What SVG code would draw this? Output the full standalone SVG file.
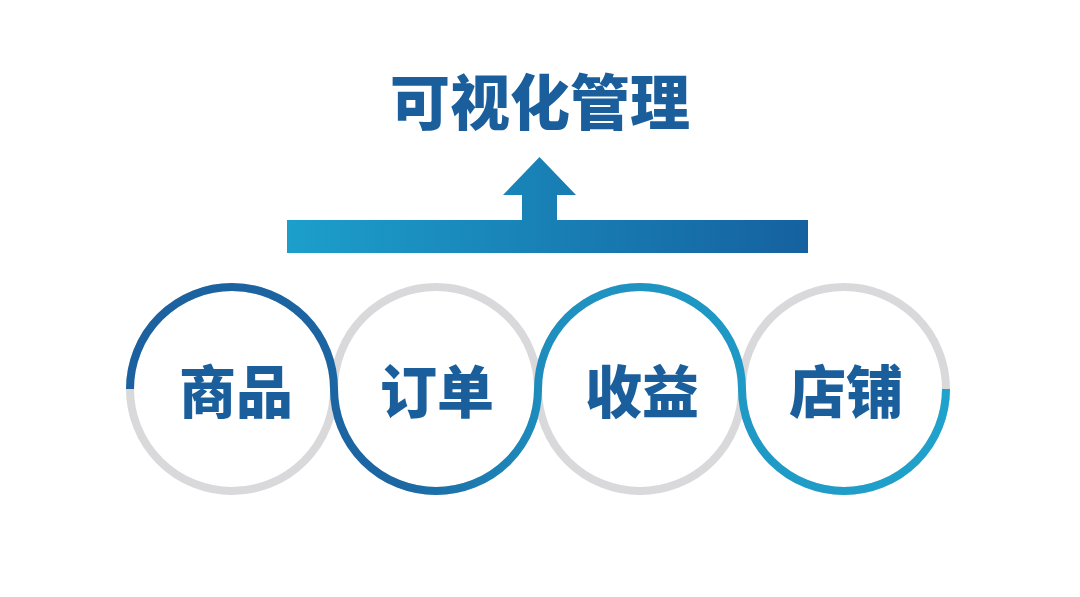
<svg xmlns="http://www.w3.org/2000/svg" width="1080" height="597" viewBox="0 0 1080 597">
  <defs>
    <linearGradient id="barGrad" gradientUnits="userSpaceOnUse" x1="287" y1="0" x2="808" y2="0">
      <stop offset="0" stop-color="#1c9fcb"/>
      <stop offset="1" stop-color="#15619f"/>
    </linearGradient>
    <linearGradient id="ringGrad" gradientUnits="userSpaceOnUse" x1="130" y1="0" x2="946" y2="0">
      <stop offset="0" stop-color="#1b619f"/>
      <stop offset="0.33" stop-color="#1b66a3"/>
      <stop offset="0.52" stop-color="#1e90bf"/>
      <stop offset="1" stop-color="#1fa2cc"/>
    </linearGradient>
    <style>
      .grey { fill: none; stroke: #d9d9db; stroke-width: 8; }
      .label { font-family: "Noto Sans CJK SC", "Noto Sans", sans-serif; font-weight: 900; fill: #1a5f9c; text-anchor: middle; }
    </style>
  </defs>
  <rect width="1080" height="597" fill="#ffffff"/>

  <g id="title">
    <text class="label" x="540" y="125" font-size="60">可视化管理</text>
  </g>

  <g id="connectors">
    <rect x="287" y="220" width="521" height="33" fill="url(#barGrad)"/>
    <polygon points="522,221 522,195 503,195 539.5,157 576,195 557,195 557,221" fill="url(#barGrad)"/>
  </g>

  <g id="rings">
    <circle class="grey" cx="232" cy="389" r="102"/>
    <circle class="grey" cx="436" cy="389" r="102"/>
    <circle class="grey" cx="640" cy="389" r="102"/>
    <circle class="grey" cx="844" cy="389" r="102"/>
    <path d="M130,389 A102,102 0 0 1 334,389 A102,102 0 0 0 538,389 A102,102 0 0 1 742,389 A102,102 0 0 0 946,389" fill="none" stroke="url(#ringGrad)" stroke-width="8"/>
  </g>

  <g id="node-shangpin">
    <text class="label" x="236" y="413" font-size="57">商品</text>
  </g>
  <g id="node-dingdan">
    <text class="label" x="437" y="413" font-size="57">订单</text>
  </g>
  <g id="node-shouyi">
    <text class="label" x="642" y="413" font-size="57">收益</text>
  </g>
  <g id="node-dianpu">
    <text class="label" x="846" y="413" font-size="57">店铺</text>
  </g>
</svg>
